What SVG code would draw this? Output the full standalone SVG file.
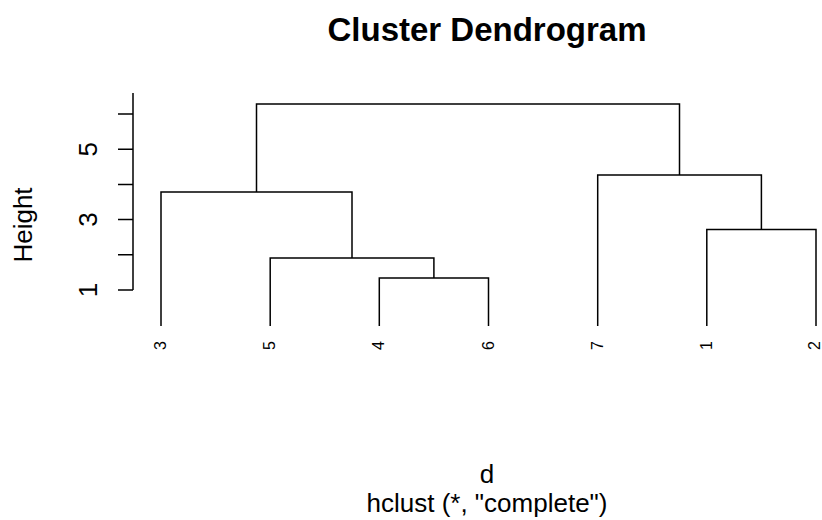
<svg xmlns="http://www.w3.org/2000/svg" width="822" height="520" viewBox="0 0 822 520">
<style>
  .ln{fill:none;stroke:#000;stroke-width:1.5;stroke-linecap:butt;stroke-linejoin:miter}
  .t{font-family:"Liberation Sans",Arial,sans-serif;fill:#000}
  .leaf{font-size:16px;text-anchor:end}
  .ax{font-size:26px;text-anchor:middle}
</style>
<rect width="822" height="520" fill="#fff"/>
<text class="t" x="487" y="41" font-size="33" font-weight="bold" text-anchor="middle">Cluster Dendrogram</text>
<g id="axis">
  <path class="ln" d="M133 93 V290 M118 290 H133 M118 254.8 H133 M118 219.6 H133 M118 184.4 H133 M118 149.2 H133 M118 114 H133"/>
  <text class="t ax" transform="translate(97 290) rotate(-90)">1</text>
  <text class="t ax" transform="translate(97 219.6) rotate(-90)">3</text>
  <text class="t ax" transform="translate(97 149.2) rotate(-90)">5</text>
  <text class="t ax" transform="translate(32 225) rotate(-90)">Height</text>
</g>
<g id="connectors">
  <path class="ln" d="M379.3 326 V278 H488.5 V326"/>
  <path class="ln" d="M270.2 326 V258 H433.9 V278"/>
  <path class="ln" d="M161 326 V192 H352 V258"/>
  <path class="ln" d="M706.8 326 V229.5 H816 V326"/>
  <path class="ln" d="M597.7 326 V175 H761.4 V229.5"/>
  <path class="ln" d="M256.5 192 V104 H679.5 V175"/>
</g>
<g id="leaf-3"><text class="t leaf" transform="translate(166 341) rotate(-90)">3</text></g>
<g id="leaf-5"><text class="t leaf" transform="translate(275.2 341) rotate(-90)">5</text></g>
<g id="leaf-4"><text class="t leaf" transform="translate(384.3 341) rotate(-90)">4</text></g>
<g id="leaf-6"><text class="t leaf" transform="translate(493.5 341) rotate(-90)">6</text></g>
<g id="leaf-7"><text class="t leaf" transform="translate(602.7 341) rotate(-90)">7</text></g>
<g id="leaf-1"><text class="t leaf" transform="translate(711.8 341) rotate(-90)">1</text></g>
<g id="leaf-2"><text class="t leaf" transform="translate(820 341) rotate(-90)">2</text></g>
<text class="t" x="487" y="483" font-size="26" text-anchor="middle">d</text>
<text class="t" x="487" y="512" font-size="26" text-anchor="middle">hclust (*, "complete")</text>
</svg>
